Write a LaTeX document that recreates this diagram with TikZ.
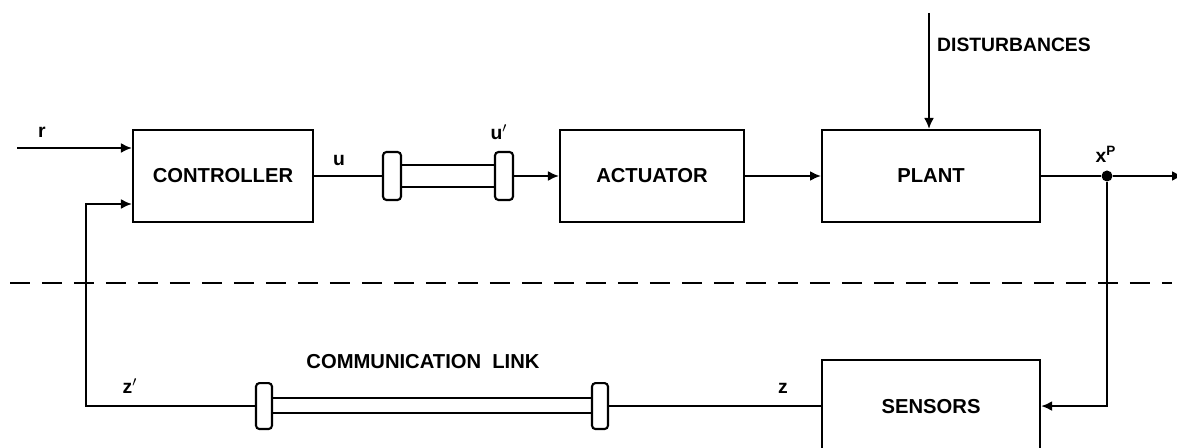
\documentclass[tikz,border=0pt]{standalone}
\usepackage{fontspec}
\setmainfont{Liberation Sans}
\usetikzlibrary{arrows.meta,positioning,calc}

\begin{document}
\begin{tikzpicture}[
  x=0.02cm,y=-0.02cm,
  >=Latex,
  blockbox/.style={rectangle,draw=black,line width=1.2pt,fill=white,
    minimum width=3.6cm,minimum height=1.84cm,align=center,
    font=\fontsize{11.5}{14}\selectfont\bfseries},
  linkcap/.style={rectangle,draw=black,line width=1.2pt,fill=white,
    rounded corners=2pt,minimum width=0.36cm,inner sep=0pt},
  dotnode/.style={circle,fill=black,inner sep=0pt,minimum size=0.22cm},
  sig/.style={font=\fontsize{11}{12}\selectfont\bfseries},
  wire/.style={line width=1.2pt},
  arrow/.style={wire,-{Latex[length=2.2mm,width=2mm]}},
  sepline/.style={line width=1.3pt,dash pattern=on 0.4cm off 0.24cm}
]
\useasboundingbox (0,0) rectangle (1177,448);

% ── Blocos ──────────────────────────────────────────────────────────────────
\node[blockbox] (ctrl) at (223,176) {CONTROLLER};
\node[blockbox,minimum width=3.68cm,right=4.9cm of ctrl] (act) {ACTUATOR};
\node[blockbox,minimum width=4.36cm,right=1.52cm of act] (plant) {PLANT};
\node[blockbox,minimum width=4.36cm,below=2.72cm of plant] (sens) {SENSORS};

% ── Enlaces de comunicação ──────────────────────────────────────────────────
\coordinate (capCx) at (264,0);
\coordinate (capDx) at (600,0);
\node[linkcap,minimum height=0.96cm] (capA) at (392,176) {};
\node[linkcap,minimum height=0.96cm] (capB) at (504,176) {};
\node[linkcap,minimum height=0.92cm,minimum width=0.32cm] (capC) at (capCx |- sens.west) {};
\node[linkcap,minimum height=0.92cm,minimum width=0.32cm] (capD) at (capDx |- sens.west) {};
\draw[wire] ([yshift=0.22cm]capA.east) -- ([yshift=0.22cm]capB.west);
\draw[wire] ([yshift=-0.22cm]capA.east) -- ([yshift=-0.22cm]capB.west);
\draw[wire] ([yshift=0.16cm]capC.east) -- ([yshift=0.16cm]capD.west);
\draw[wire] ([yshift=-0.14cm]capC.east) -- ([yshift=-0.14cm]capD.west);

% ── Pontos auxiliares ───────────────────────────────────────────────────────
\coordinate (rin) at (17,148);
\coordinate (fbk) at (86,204);
\coordinate (dist) at (929,13);
\coordinate (xout) at (1183,176);
\node[dotnode] (junc) at (1107,176) {};

% ── Setas ───────────────────────────────────────────────────────────────────
\draw[arrow] (rin) -- (rin -| ctrl.west);
\draw[wire] (ctrl.east) -- (capA.west);
\draw[arrow] (capB.east) -- (act.west);
\draw[arrow] (act) -- (plant);
\draw[arrow] (dist) -- (dist |- plant.north);
\draw[wire] (plant.east) -- (junc);
\draw[arrow] (junc) -- (xout);
\draw[arrow] (junc) |- (sens.east);
\draw[wire] (sens.west) -- (capD.east);
\draw[arrow] (capC.west) -| (fbk) -- (fbk -| ctrl.west);

% ── Linha tracejada ─────────────────────────────────────────────────────────
\coordinate (sepL) at (10,283);
\coordinate (sepR) at (1172,283);
\draw[sepline] (sepL) -- (sepR);

% ── Rótulos ─────────────────────────────────────────────────────────────────
\node[sig] (lblr) at (42,132) {r};
\node[sig] (lblu) at (339,160) {u};
\node[sig] (lblup) at (499,132) {u$'$};
\node[sig] (lblx) at (1106,154) {x\textsuperscript{P}};
\node[sig] (lblzp) at (130,386) {z$'$};
\node[sig] (lblz) at (783,388) {z};
\node[anchor=west,font=\fontsize{11}{13}\selectfont\bfseries] (lbldist) at (931,45) {DISTURBANCES};
\node[font=\fontsize{11.5}{14}\selectfont\bfseries] (lbllink) at (423,362) {COMMUNICATION\ \ LINK};
\end{tikzpicture}
\end{document}
